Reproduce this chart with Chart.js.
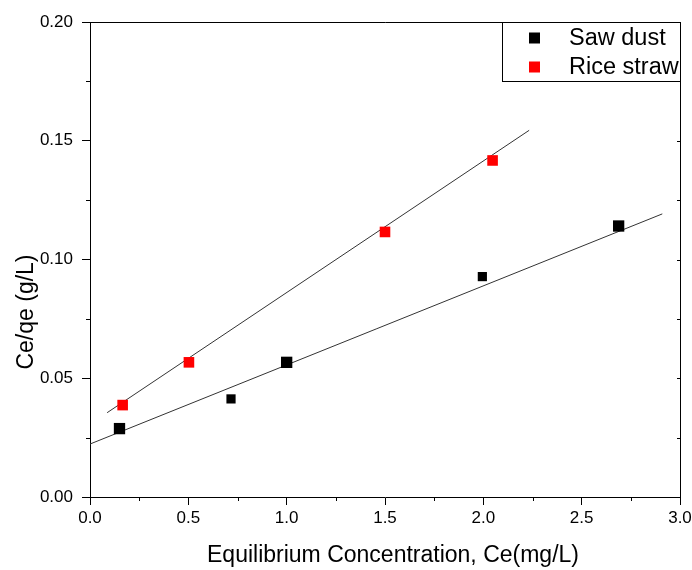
<!DOCTYPE html>
<html>
<head>
<meta charset="utf-8">
<script src="https://cdn.jsdelivr.net/npm/chart.js@4/dist/chart.umd.min.js"></script>
<style>
  html, body { margin: 0; padding: 0; background: #fff; }
  canvas { display: block; }
</style>
</head>
<body>
<canvas id="isoChart" width="692" height="570"></canvas>
<script>
// data
const sawDustX = [0.15, 0.717, 1.0, 1.995, 2.688];
const sawDustY = [0.0288, 0.0413, 0.0567, 0.0928, 0.1141];
const sawDustSize = [8, 6.5, 8, 6.5, 8];

const riceStrawX = [0.166, 0.503, 1.50, 2.047];
const riceStrawY = [0.0387, 0.0567, 0.1116, 0.1417];

// fitted lines (end points)
const sawFitX = [0, 2.91];
const sawFitY = [0.0223, 0.1192];
const riceFitX = [0.087, 2.233];
const riceFitY = [0.0355, 0.1544];

const xTitle = 'Equilibrium Concentration, Ce(mg/L)';
const yTitle = 'Ce/qe (g/L)';

const FONT = '"Liberation Sans", Arial, sans-serif';

function toPoints(xs, ys) {
    return xs.map((x, i) => ({ x: x, y: ys[i] }));
}

// minor ticks, right-side ticks, top/right frame, axis titles, legend box
const framePlugin = {
    id: 'frame',
    afterDraw(chart) {
        const ctx = chart.ctx;
        const area = chart.chartArea;
        const xs = chart.scales.x;
        const ys = chart.scales.y;
        ctx.save();
        ctx.strokeStyle = '#000';
        ctx.lineWidth = 1;

        // top + right border
        ctx.beginPath();
        ctx.moveTo(area.left, area.top + 0.5);
        ctx.lineTo(area.right + 0.5, area.top + 0.5);
        ctx.lineTo(area.right + 0.5, area.bottom);
        ctx.stroke();

        // minor ticks on x
        const xt = xs.ticks.map(t => t.value);
        ctx.beginPath();
        for (let i = 0; i < xt.length - 1; i++) {
            const px = Math.round(xs.getPixelForValue((xt[i] + xt[i + 1]) / 2)) + 0.5;
            ctx.moveTo(px, area.bottom);
            ctx.lineTo(px, area.bottom + 4);
        }
        // minor ticks on y, plus inward ticks on the right
        const yt = ys.ticks.map(t => t.value);
        for (let i = 0; i < yt.length; i++) {
            const vals = [yt[i]];
            if (i < yt.length - 1) vals.push((yt[i] + yt[i + 1]) / 2);
            vals.forEach((v, k) => {
                const py = Math.round(ys.getPixelForValue(v)) + 0.5;
                if (k === 1) {
                    ctx.moveTo(area.left - 4, py);
                    ctx.lineTo(area.left, py);
                }
                if (v > 0 && v < 0.2) {
                    ctx.moveTo(area.right, py);
                    ctx.lineTo(area.right - 3, py);
                }
            });
        }
        ctx.stroke();

        // axis titles
        ctx.fillStyle = '#000';
        ctx.font = '23px ' + FONT;
        ctx.textAlign = 'center';
        ctx.textBaseline = 'alphabetic';
        ctx.fillText(xTitle, 393, 562);
        ctx.save();
        ctx.translate(33, 312);
        ctx.rotate(-Math.PI / 2);
        ctx.fillText(yTitle, 0, 0);
        ctx.restore();

        // legend
        const lx = 502, ly = area.top, lw = area.right - 502, lh = 59;
        ctx.fillStyle = '#fff';
        ctx.fillRect(lx, ly, lw, lh);
        ctx.strokeRect(lx + 0.5, ly + 0.5, lw, lh);
        const items = chart.data.datasets.filter(d => d.label);
        ctx.font = '23.5px ' + FONT;
        ctx.textBaseline = 'middle';
        ctx.textAlign = 'left';
        items.forEach((d, i) => {
            const cy = ly + 16 + i * 29;
            ctx.fillStyle = d.backgroundColor;
            ctx.fillRect(529, cy - 5.5, 11, 11);
            ctx.fillStyle = '#000';
            ctx.fillText(d.label, 569, cy + 1);
        });
        ctx.restore();
    }
};

new Chart(document.getElementById('isoChart'), {
    type: 'scatter',
    data: {
        datasets: [
            {
                label: 'Saw dust',
                data: toPoints(sawDustX, sawDustY),
                backgroundColor: '#000000',
                borderWidth: 0,
                pointStyle: 'rect',
                pointRadius: sawDustSize
            },
            {
                label: 'Rice straw',
                data: toPoints(riceStrawX, riceStrawY),
                backgroundColor: '#ff0000',
                borderWidth: 0,
                pointStyle: 'rect',
                pointRadius: 7.5
            },
            {
                type: 'line',
                data: toPoints(sawFitX, sawFitY),
                borderColor: '#333',
                borderWidth: 1,
                pointRadius: 0,
                fill: false
            },
            {
                type: 'line',
                data: toPoints(riceFitX, riceFitY),
                borderColor: '#333',
                borderWidth: 1,
                pointRadius: 0,
                fill: false
            }
        ]
    },
    options: {
        responsive: false,
        animation: false,
        devicePixelRatio: 1,
        layout: { padding: { top: 22, right: 12, left: 0, bottom: 0 } },
        plugins: {
            legend: { display: false },
            tooltip: { enabled: false }
        },
        scales: {
            x: {
                type: 'linear',
                min: 0,
                max: 3,
                afterFit: scale => {
                    scale.height = 73;
                    scale.paddingLeft = 0;
                    scale.paddingRight = 0;
                },
                border: { display: true, color: '#000', width: 1 },
                grid: { drawOnChartArea: false, drawTicks: true, tickLength: 8, color: '#000' },
                ticks: {
                    stepSize: 0.5,
                    padding: 3,
                    color: '#000',
                    font: { family: FONT, size: 17 },
                    callback: v => v.toFixed(1)
                }
            },
            y: {
                type: 'linear',
                min: 0,
                max: 0.2,
                afterFit: scale => {
                    scale.width = 90;
                    scale.paddingTop = 0;
                    scale.paddingBottom = 0;
                },
                border: { display: true, color: '#000', width: 1 },
                grid: { drawOnChartArea: false, drawTicks: true, tickLength: 8, color: '#000' },
                ticks: {
                    stepSize: 0.05,
                    padding: 9,
                    color: '#000',
                    font: { family: FONT, size: 17 },
                    callback: v => v.toFixed(2)
                }
            }
        }
    },
    plugins: [framePlugin]
});
</script>
</body>
</html>
